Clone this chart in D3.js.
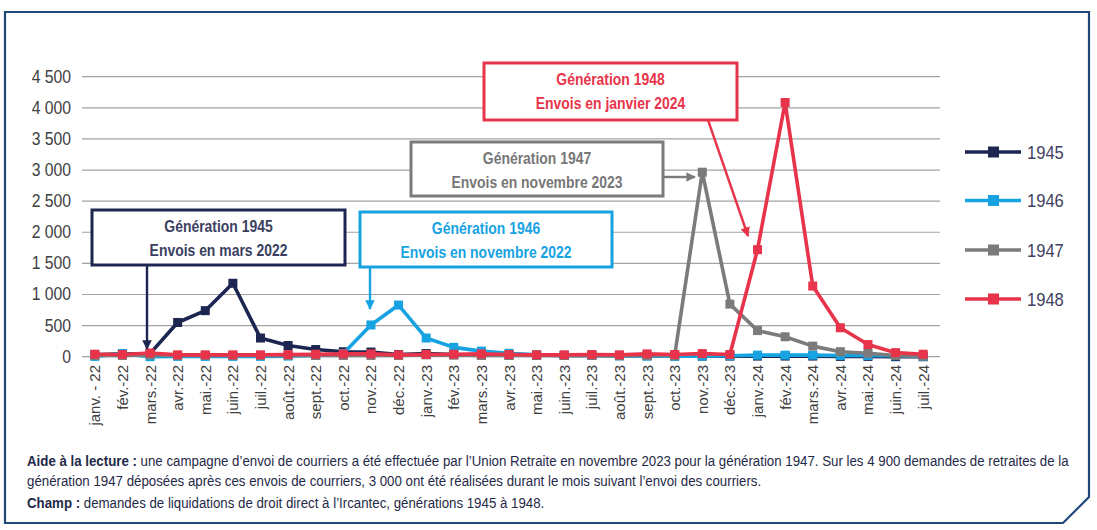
<!DOCTYPE html>
<html>
<head>
<meta charset="utf-8">
<script src="https://cdn.jsdelivr.net/npm/d3@7"></script>
<style>
  body { margin: 0; background: #fff; }
  svg { font-family: "Liberation Sans", Arial, sans-serif; }
</style>
</head>
<body>
<script>
var w = 1097;
var h = 530;

// mois, janv. 2022 -> juil. 2024
var mois = ["janv. - 22","fév.-22","mars.-22","avr.-22","mai.-22","juin.-22","juil.-22","août.-22","sept.-22","oct.-22","nov.-22","déc.-22",
            "janv.-23","fév.-23","mars.-23","avr.-23","mai.-23","juin.-23","juil.-23","août.-23","sept.-23","oct.-23","nov.-23","déc.-23",
            "janv.-24","fév.-24","mars.-24","avr.-24","mai.-24","juin.-24","juil.-24"];

var gen1945 = [30,45,50,550,740,1180,300,180,115,80,75,35, 50,35,30,25,25,20,20,15,15,10,10,10, 10,10,10,5,5,0,0];
var gen1946 = [5,50,0,5,5,5,5,10,20,50,510,830, 300,150,90,55,30,20,20,15,10,10,10,15, 25,25,25,20,20,15,5];
var gen1947 = [20,20,30,20,20,20,20,20,20,20,20,20, 30,25,20,20,20,20,20,20,20,20,2965,845, 420,320,170,80,55,20,10];
var gen1948 = [40,35,60,30,30,30,30,35,40,45,45,30, 35,40,45,35,30,30,35,30,45,35,50,35, 1720,4085,1135,465,195,65,40];

var series = [
  {nom: "1945", vals: gen1945, col: "#1d2651"},
  {nom: "1946", vals: gen1946, col: "#17a3e2"},
  {nom: "1947", vals: gen1947, col: "#7b7b7b"},
  {nom: "1948", vals: gen1948, col: "#e8344a"}
];

var yTicks = [0,500,1000,1500,2000,2500,3000,3500,4000,4500];

var svg = d3.select("body").append("svg")
    .attr("width", w)
    .attr("height", h);

// resserre un texte (police étroite absente)
function etroit(sel, k){
    sel.each(function(){
        var t = d3.select(this);
        var x0 = +t.attr("x"), y0 = +t.attr("y");
        t.attr("x", 0).attr("y", 0)
         .attr("transform", "translate(" + x0 + "," + y0 + ") scale(" + k + ",1)");
    });
}

// cadre avec coin coupé en bas à droite
svg.append("path")
    .attr("d", "M5,12 L1089,12 L1089,497 L1063,523 L5,523 Z")
    .attr("fill", "none")
    .attr("stroke", "#1f4a78")
    .attr("stroke-width", 2.2);

var x = d3.scalePoint().domain(mois).range([81, 937]).padding(0.5);
var y = d3.scaleLinear().domain([0, 4500]).range([356.7, 76.7]);

// grille
svg.selectAll(".grid").data(yTicks).enter().append("line")
    .attr("x1", 82).attr("x2", 940)
    .attr("y1", function(d){ return y(d); })
    .attr("y2", function(d){ return y(d); })
    .attr("stroke", "#a3a3a3").attr("stroke-width", 1.2);

// axe y
var fmt = function(d){ return d3.format(",")(d).replace(",", " "); };
svg.selectAll(".ylab").data(yTicks).enter().append("text")
    .attr("x", 71)
    .attr("y", function(d){ return y(d) + 6; })
    .attr("text-anchor", "end")
    .attr("font-size", 17.5)
    .attr("fill", "#404040")
    .text(fmt)
    .call(etroit, 0.9);

// axe x (étiquettes verticales)
svg.selectAll(".xlab").data(mois).enter().append("text")
    .attr("transform", function(d){ return "translate(" + (x(d) + 5.5) + ",365) rotate(-90)"; })
    .attr("text-anchor", "end")
    .attr("font-size", 15)
    .attr("fill", "#404040")
    .text(function(d){ return d; });

// courbes
var line = d3.line()
    .x(function(d, i){ return x(mois[i]); })
    .y(function(d){ return y(d); });

series.forEach(function(s){
    svg.append("path")
        .attr("d", line(s.vals))
        .attr("fill", "none")
        .attr("stroke", s.col)
        .attr("stroke-width", 3.6)
        .attr("stroke-linejoin", "round");
    svg.selectAll(null).data(s.vals).enter().append("rect")
        .attr("x", function(d, i){ return x(mois[i]) - 4.5; })
        .attr("y", function(d){ return y(d) - 4.5; })
        .attr("width", 9).attr("height", 9)
        .attr("fill", s.col);
});

// légende
var legY = [152, 200.5, 250, 299];
series.forEach(function(s, i){
    svg.append("line")
        .attr("x1", 965).attr("x2", 1021)
        .attr("y1", legY[i]).attr("y2", legY[i])
        .attr("stroke", s.col).attr("stroke-width", 3.6);
    svg.append("rect")
        .attr("x", 988).attr("y", legY[i] - 5.5)
        .attr("width", 11).attr("height", 11)
        .attr("fill", s.col);
    svg.append("text")
        .attr("x", 1027).attr("y", legY[i] + 6.5)
        .attr("font-size", 18)
        .attr("fill", "#404060")
        .text(s.nom)
        .call(etroit, 0.92);
});

// encadrés d'annotation
var defs = svg.append("defs");
series.forEach(function(s){
    defs.append("marker")
        .attr("id", "fl" + s.nom)
        .attr("viewBox", "0 0 10 10")
        .attr("refX", 9).attr("refY", 5)
        .attr("markerWidth", 4).attr("markerHeight", 4)
        .attr("orient", "auto")
        .append("path").attr("d", "M0,0 L10,5 L0,10 Z").attr("fill", s.col);
});

var notes = [
  {s: series[0], x0: 92, y0: 210, x1: 345, y1: 265, txtCol: "#3a4060", l1: "Génération 1945", l2: "Envois en mars 2022",
   fl: [147, 265, 147, 349]},
  {s: series[1], x0: 360, y0: 212, x1: 612, y1: 267, txtCol: "#17a3e2", l1: "Génération 1946", l2: "Envois en novembre 2022",
   fl: [370, 267, 370, 309]},
  {s: series[2], x0: 411, y0: 142, x1: 663, y1: 196, txtCol: "#777777", l1: "Génération 1947", l2: "Envois en novembre 2023",
   fl: [663, 177, 695, 177]},
  {s: series[3], x0: 484, y0: 63, x1: 737, y1: 120, txtCol: "#e8344a", l1: "Génération 1948", l2: "Envois en janvier 2024",
   fl: [708, 120, 748, 236]}
];

notes.forEach(function(n){
    svg.append("rect")
        .attr("x", n.x0).attr("y", n.y0)
        .attr("width", n.x1 - n.x0).attr("height", n.y1 - n.y0)
        .attr("fill", "#fff")
        .attr("stroke", n.s.col).attr("stroke-width", 3);
    var cx = (n.x0 + n.x1) / 2;
    [n.l1, n.l2].forEach(function(l, j){
        svg.append("text").attr("x", cx).attr("y", n.y0 + 22 + j * 24)
            .attr("text-anchor", "middle").attr("font-size", 17).attr("font-weight", "bold")
            .attr("fill", n.txtCol).text(l)
            .call(etroit, 0.82);
    });
    svg.append("line")
        .attr("x1", n.fl[0]).attr("y1", n.fl[1])
        .attr("x2", n.fl[2]).attr("y2", n.fl[3])
        .attr("stroke", n.s.col).attr("stroke-width", 2.4)
        .attr("marker-end", "url(#fl" + n.s.nom + ")");
});

// texte de lecture
var note = svg.append("g").attr("font-size", 14.5).attr("fill", "#1f2a48");
var t1 = note.append("text").attr("x", 27).attr("y", 466);
t1.append("tspan").attr("font-weight", "bold").text("Aide à la lecture : ");
t1.append("tspan").text("une campagne d’envoi de courriers a été effectuée par l’Union Retraite en novembre 2023 pour la génération 1947. Sur les 4 900 demandes de retraites de la");
var t2 = note.append("text").attr("x", 27).attr("y", 486)
    .text("génération 1947 déposées après ces envois de courriers, 3 000 ont été réalisées durant le mois suivant l’envoi des courriers.");
var t3 = note.append("text").attr("x", 27).attr("y", 508);
t3.append("tspan").attr("font-weight", "bold").text("Champ : ");
t3.append("tspan").text("demandes de liquidations de droit direct à l’Ircantec, générations 1945 à 1948.");

var k = 1043 / t1.node().getComputedTextLength();
note.selectAll("text").call(etroit, k);
</script>
</body>
</html>
